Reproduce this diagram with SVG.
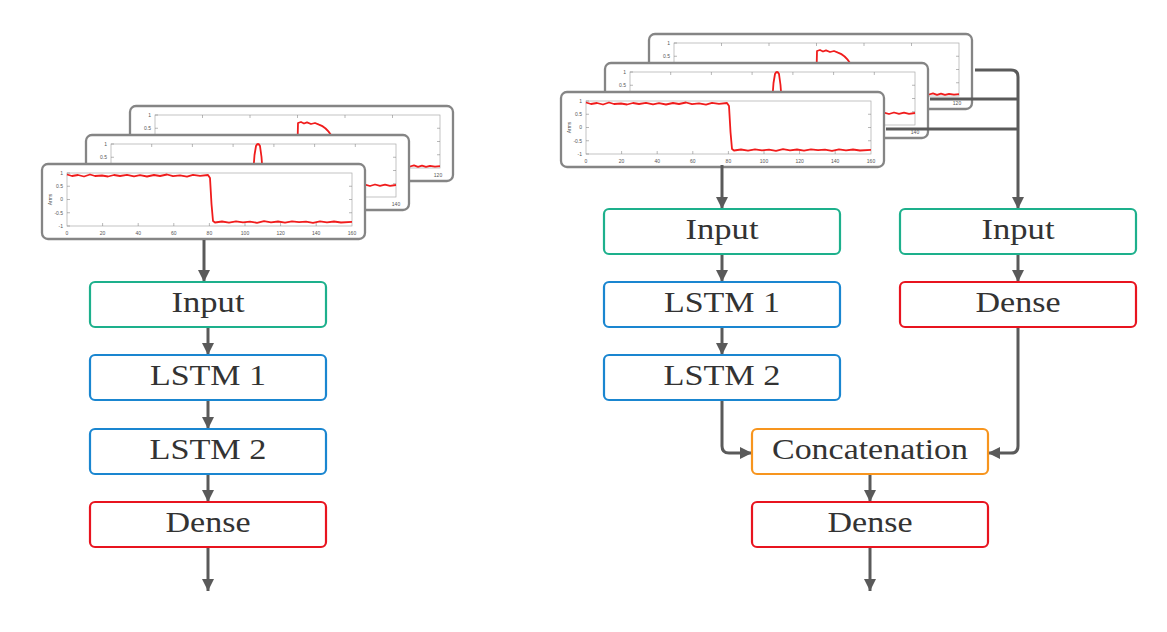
<svg xmlns="http://www.w3.org/2000/svg" xmlns:xlink="http://www.w3.org/1999/xlink" width="1167" height="632" viewBox="0 0 1167 632">
<style>
.box{fill:#fff;stroke-width:2.2}
.in{stroke:#1db08c}
.ls{stroke:#1a86d0}
.de{stroke:#e8141f}
.co{stroke:#f7951e}
.lbl{font-family:"Liberation Serif","DejaVu Serif",serif;font-size:30px;fill:#333;text-anchor:middle}
.card{fill:#fff;stroke:#858585;stroke-width:2.3}
.ax{fill:none;stroke:#aaa;stroke-width:0.7}
.tk{fill:none;stroke:#888;stroke-width:0.6}
.tl{font-family:"Liberation Sans",Arial,sans-serif;font-size:5px;fill:#555}
.red{fill:none;stroke:#f01c1c;stroke-width:1.8;stroke-linejoin:round}
.conn{fill:none;stroke:#5a5a5a;stroke-width:3}
</style>
<defs>
<marker id="ah" markerUnits="userSpaceOnUse" markerWidth="12" markerHeight="12" refX="12" refY="6" orient="auto">
<path d="M0,0 L12,6 L0,12 z" fill="#5a5a5a"/>
</marker>
<g id="axes">
<rect class="ax" x="25" y="9" width="285" height="53"/>
<path class="tk" d="M25,9 h3 M25,22.25 h3 M25,35.5 h3 M25,48.75 h3 M25,62 h3 M310,22.25 h-3 M310,35.5 h-3 M310,48.75 h-3"/>
<text class="tl" x="21" y="11" text-anchor="end">1</text>
<text class="tl" x="21" y="24" text-anchor="end">0.5</text>
<text class="tl" x="21" y="37" text-anchor="end">0</text>
<text class="tl" x="21" y="50.5" text-anchor="end">-0.5</text>
<text class="tl" x="21" y="64" text-anchor="end">-1</text>
<text class="tl" x="10" y="35.5" text-anchor="middle" transform="rotate(-90 10 35.5)" font-size="6">Arms</text>
</g>
<g id="card-front">
<rect class="card" x="0" y="0" width="323" height="75" rx="6"/>
<use xlink:href="#axes"/>
<path class="tk" d="M60.6,62 v-3 M96.2,62 v-3 M131.8,62 v-3 M167.4,62 v-3 M203,62 v-3 M238.6,62 v-3 M274.2,62 v-3"/>
<g class="tl" text-anchor="middle">
<text x="25" y="71">0</text><text x="60.6" y="71">20</text><text x="96.2" y="71">40</text><text x="131.8" y="71">60</text><text x="167.4" y="71">80</text><text x="203" y="71">100</text><text x="238.6" y="71">120</text><text x="274.2" y="71">140</text><text x="310" y="71">160</text>
</g>
<path class="red" d="M25,10.5 L30,12 L36,11 L42,12.5 L48,10.5 L53,12 L60,11.5 L66,12.5 L72,11 L78,12 L85,10.8 L92,12.3 L98,11.2 L105,12.5 L112,11 L118,12 L125,10.5 L131,12.2 L138,11.3 L145,12.6 L151,10.8 L158,11.8 L166,11 L168,14 L169.5,40 L171,57 L173,58.5 L180,57.5 L187,58.6 L194,57.3 L201,58.4 L208,57.6 L215,58.8 L222,57.2 L229,58.3 L236,57.5 L243,58.7 L250,57.4 L257,58.2 L264,57.6 L271,58.8 L278,57.3 L285,58.3 L292,57.5 L299,58.5 L310,57.8"/>
</g>
<g id="card-mid">
<rect class="card" x="0" y="0" width="323" height="75" rx="6"/>
<use xlink:href="#axes"/>
<path class="tk" d="M65.7,9 v3 M106.4,9 v3 M147.1,9 v3 M187.9,9 v3 M228.6,9 v3 M269.3,9 v3"/>
<g class="tl" text-anchor="middle">
<text x="25" y="71">0</text><text x="65.7" y="71">20</text><text x="106.4" y="71">40</text><text x="147.1" y="71">60</text><text x="187.9" y="71">80</text><text x="228.6" y="71">100</text><text x="269.3" y="71">120</text><text x="310" y="71">140</text>
</g>
<path class="red" d="M25,50 L35,51 L45,49.5 L55,50.8 L65,49.6 L75,51 L85,49.8 L95,50.7 L105,49.5 L115,50.9 L125,49.7 L135,50.6 L145,49.8 L155,50.8 L165,50 L167,40 L168.5,20 L170,11 Q172,7 174,11 L175.5,22 L177,42 L179,50 L190,50.8 L200,49.6 L210,50.9 L220,49.8 L230,50.7 L240,49.5 L250,50.8 L260,49.7 L270,50.9 L279,49.6 L284,51 L289,49.5 L294,50.8 L299,49.7 L304,50.9 L310,50"/>
</g>
<g id="card-back">
<rect class="card" x="0" y="0" width="323" height="75" rx="6"/>
<use xlink:href="#axes"/>
<path class="tk" d="M72.5,9 v3 M120,9 v3 M167.5,9 v3 M215,9 v3 M262.5,9 v3"/>
<g class="tl" text-anchor="middle">
<text x="25" y="71">0</text><text x="72.5" y="71">20</text><text x="120" y="71">40</text><text x="167.5" y="71">60</text><text x="215" y="71">80</text><text x="262.5" y="71">100</text><text x="308" y="71">120</text>
</g>
<path class="red" d="M25,60 L60,60.8 L100,59.8 L140,60.6 L167,60 L168,17 L171,16 L174,17.5 L177,16.3 L181,18 L185,17 L189,18.6 Q196,21 201,29 L205,38 L209,50 L213,60 L240,60.6 L270,59.8 L280,60.5 L284,59.3 L288,60.8 L292,59.6 L296,60.9 L300,59.8 L305,60.7 L310,60.2"/>
</g>
<g id="stack">
<use xlink:href="#card-back" x="88" y="-58"/>
<use xlink:href="#card-mid" x="44" y="-29"/>
<use xlink:href="#card-front" x="0" y="0"/>
</g>
</defs>

<g id="cards-left"><use xlink:href="#stack" transform="translate(42,164)"/></g>
<g id="cards-right"><use xlink:href="#stack" transform="translate(561,92)"/></g>

<g id="connectors">
<path class="conn" marker-end="url(#ah)" d="M204,240 V282"/>
<path class="conn" marker-end="url(#ah)" d="M208,327 V355"/>
<path class="conn" marker-end="url(#ah)" d="M208,400 V429"/>
<path class="conn" marker-end="url(#ah)" d="M208,474 V502"/>
<path class="conn" marker-end="url(#ah)" d="M208,547 V591"/>
<path class="conn" marker-end="url(#ah)" d="M722,165 V209"/>
<path class="conn" marker-end="url(#ah)" d="M722,254 V282"/>
<path class="conn" marker-end="url(#ah)" d="M722,327 V355"/>
<path class="conn" marker-end="url(#ah)" d="M722,400 V446 Q722,453 729,453 H752"/>
<path class="conn" marker-end="url(#ah)" d="M1018,327 V446 Q1018,453 1011,453 H988"/>
<path class="conn" marker-end="url(#ah)" d="M1018,254 V282"/>
<path class="conn" marker-end="url(#ah)" d="M870,474 V502"/>
<path class="conn" marker-end="url(#ah)" d="M870,547 V591"/>
<path class="conn" marker-end="url(#ah)" d="M975,70 H1011 Q1018,70 1018,77 V209"/>
<path class="conn" d="M930,99 H1018"/>
<path class="conn" d="M886,129 H1018"/>
</g>

<g id="l-input"><rect class="box in" x="90" y="282" width="236" height="45" rx="5"/><text class="lbl" x="208" y="312" textLength="73" lengthAdjust="spacingAndGlyphs">Input</text></g>
<g id="l-lstm1"><rect class="box ls" x="90" y="355" width="236" height="45" rx="5"/><text class="lbl" x="208" y="385" textLength="116" lengthAdjust="spacingAndGlyphs">LSTM 1</text></g>
<g id="l-lstm2"><rect class="box ls" x="90" y="429" width="236" height="45" rx="5"/><text class="lbl" x="208" y="459" textLength="117" lengthAdjust="spacingAndGlyphs">LSTM 2</text></g>
<g id="l-dense"><rect class="box de" x="90" y="502" width="236" height="45" rx="5"/><text class="lbl" x="208" y="532" textLength="85" lengthAdjust="spacingAndGlyphs">Dense</text></g>

<g id="r-input1"><rect class="box in" x="604" y="209" width="236" height="45" rx="5"/><text class="lbl" x="722" y="239" textLength="73" lengthAdjust="spacingAndGlyphs">Input</text></g>
<g id="r-lstm1"><rect class="box ls" x="604" y="282" width="236" height="45" rx="5"/><text class="lbl" x="722" y="312" textLength="116" lengthAdjust="spacingAndGlyphs">LSTM 1</text></g>
<g id="r-lstm2"><rect class="box ls" x="604" y="355" width="236" height="45" rx="5"/><text class="lbl" x="722" y="385" textLength="117" lengthAdjust="spacingAndGlyphs">LSTM 2</text></g>
<g id="r-input2"><rect class="box in" x="900" y="209" width="236" height="45" rx="5"/><text class="lbl" x="1018" y="239" textLength="73" lengthAdjust="spacingAndGlyphs">Input</text></g>
<g id="r-dense1"><rect class="box de" x="900" y="282" width="236" height="45" rx="5"/><text class="lbl" x="1018" y="312" textLength="85" lengthAdjust="spacingAndGlyphs">Dense</text></g>
<g id="r-concat"><rect class="box co" x="752" y="429" width="236" height="45" rx="5"/><text class="lbl" x="870" y="459" textLength="196" lengthAdjust="spacingAndGlyphs">Concatenation</text></g>
<g id="r-dense2"><rect class="box de" x="752" y="502" width="236" height="45" rx="5"/><text class="lbl" x="870" y="532" textLength="85" lengthAdjust="spacingAndGlyphs">Dense</text></g>
</svg>
